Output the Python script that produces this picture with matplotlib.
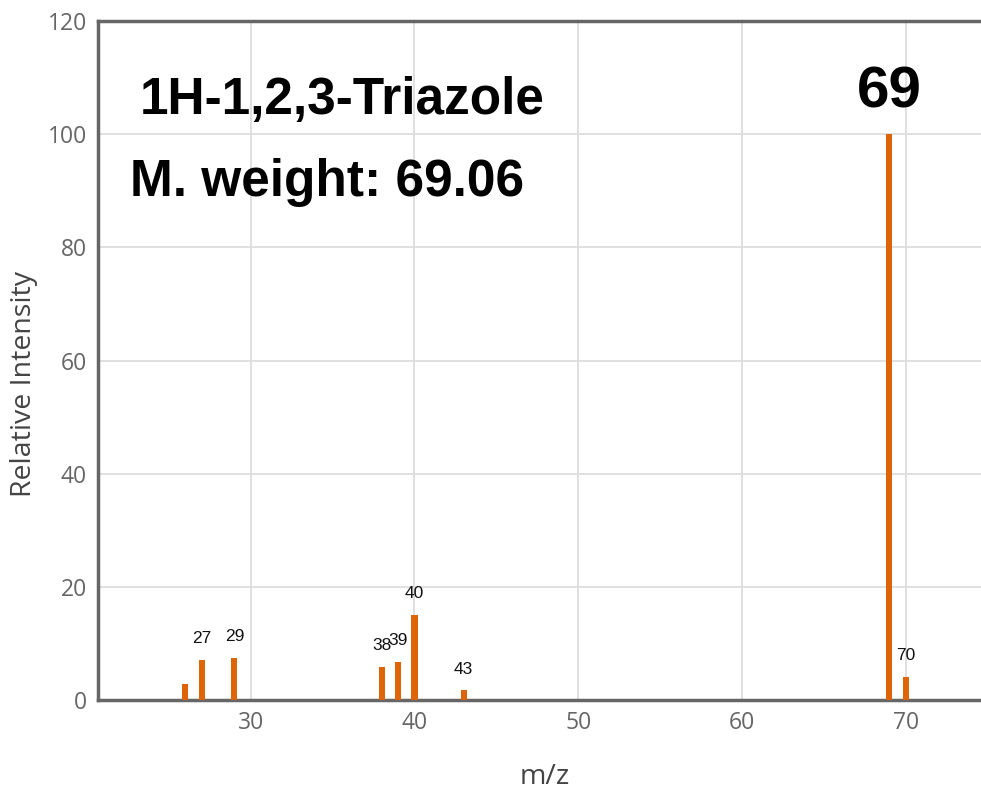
import matplotlib.pyplot as plt

# DATA
mz = [26, 27, 29, 38, 39, 40, 43, 69, 70]
intensity = [2.8, 7.1, 7.4, 5.9, 6.8, 15.0, 1.7, 100.0, 4.1]
peak_labels = ['', '27', '29', '38', '39', '40', '43', '', '70']
base_peak = 69
compound = '1H-1,2,3-Triazole'
mol_weight = 'M. weight: 69.06'
x_ticks = [30, 40, 50, 60, 70]
y_ticks = [0, 20, 40, 60, 80, 100, 120]

BAR_COLOR = '#dd6407'
GRID_COLOR = '#dddddd'
AXIS_COLOR = '#666666'

fig = plt.figure(figsize=(9.81, 7.95), dpi=100)
ax = fig.add_axes([98 / 981, 95 / 795, 1 - 98 / 981, (700 - 21) / 795])

ax.bar(mz, intensity, width=0.37, color=BAR_COLOR, zorder=3)

for x, y, lab in zip(mz, intensity, peak_labels):
    if lab:
        ax.annotate(lab, (x, y), xytext=(0, 12), textcoords='offset points',
                    ha='center', va='baseline', fontsize=12.5,
                    family='Liberation Sans', color='#111111', zorder=4)

ax.text(base_peak, 104.8, str(base_peak), ha='center', va='baseline',
        fontsize=42, fontweight='bold', family='Liberation Sans', color='black')
ax.text(23.2, 103.5, compound, ha='left', va='baseline',
        fontsize=37, fontweight='bold', family='Liberation Sans', color='black')
ax.text(22.6, 89.0, mol_weight, ha='left', va='baseline',
        fontsize=37, fontweight='bold', family='Liberation Sans', color='black')

ax.set_xlim(20.67, 74.6)
ax.set_ylim(0, 120)
ax.set_xticks(x_ticks)
ax.set_yticks(y_ticks)
ax.grid(True, color=GRID_COLOR, linewidth=1.3, zorder=0)
ax.set_axisbelow(True)
ax.tick_params(length=0, labelsize=16.5, labelcolor=AXIS_COLOR, pad=8)
for lab in ax.get_xticklabels() + ax.get_yticklabels():
    lab.set_family('Open Sans')

for side in ['left', 'top', 'bottom']:
    ax.spines[side].set_color(AXIS_COLOR)
    ax.spines[side].set_linewidth(2.5)
ax.spines['right'].set_visible(False)

ax.set_xlabel('m/z', fontsize=20.5, family='Open Sans', color='#444444')
ax.set_ylabel('Relative Intensity', fontsize=20.5, family='Open Sans', color='#444444')
ax.xaxis.set_label_coords(0.506, -0.093)
ax.yaxis.set_label_coords(-0.068, 0.465)

fig.savefig('out.png', dpi=100)
